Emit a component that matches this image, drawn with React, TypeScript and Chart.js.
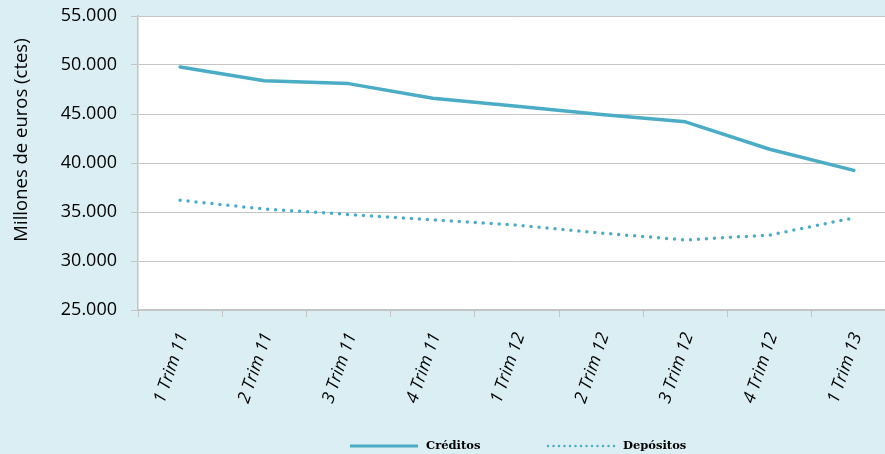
import { useEffect, useRef } from "react";
import { Chart, registerables } from "chart.js";

Chart.register(...registerables);

const categories = [
  "1 Trim 11",
  "2 Trim 11",
  "3 Trim 11",
  "4 Trim 11",
  "1 Trim 12",
  "2 Trim 12",
  "3 Trim 12",
  "4 Trim 12",
  "1 Trim 13",
];
const creditos = [49800, 48400, 48100, 46600, 45800, 44950, 44200, 41400, 39250];
const depositos = [36200, 35300, 34750, 34200, 33650, 32850, 32150, 32650, 34400];
const seriesLabels = ["Créditos", "Depósitos"];
const yTitle = "Millones de euros (ctes)";
const yMin = 25000;
const yMax = 55000;
const yStep = 5000;

const LINE = "#4BACC6";
const BG = "#DAEEF3";
const GRID = "#C4C4C4";

const fmt = (v: number) => String(Math.round(v)).replace(/\B(?=(\d{3})+(?!\d))/g, ".");

const decorPlugin = {
  id: "decor",
  beforeDraw(chart: any) {
    const { ctx, chartArea } = chart;
    ctx.save();
    ctx.fillStyle = BG;
    ctx.fillRect(0, 0, chart.width, chart.height);
    ctx.fillStyle = "#FFFFFF";
    ctx.fillRect(chartArea.left, chartArea.top, chartArea.right - chartArea.left, chartArea.bottom - chartArea.top);
    ctx.restore();
  },
  afterDraw(chart: any) {
    const { ctx } = chart;
    ctx.save();
    ctx.translate(22, 140);
    ctx.rotate(-Math.PI / 2);
    ctx.fillStyle = "#000000";
    ctx.font = '18.5px "Open Sans"';
    ctx.textAlign = "center";
    ctx.textBaseline = "middle";
    ctx.fillText(yTitle, 0, 0);
    ctx.restore();

    const ds = chart.data.datasets;
    const items = [
      { x0: 350, x1: 418, tx: 426, width: 3, dash: [] as number[] },
      { x0: 548, x1: 615, tx: 623, width: 2.5, dash: [0, 5.5] },
    ];
    const y = 446;
    items.forEach((it, i) => {
      ctx.save();
      ctx.strokeStyle = ds[i].borderColor;
      ctx.lineWidth = it.width;
      ctx.lineCap = it.dash.length ? "round" : "butt";
      ctx.setLineDash(it.dash);
      ctx.beginPath();
      ctx.moveTo(it.x0, y);
      ctx.lineTo(it.x1, y);
      ctx.stroke();
      ctx.setLineDash([]);
      ctx.fillStyle = "#000000";
      ctx.font = 'bold 11.5px "DejaVu Serif"';
      ctx.textAlign = "left";
      ctx.textBaseline = "middle";
      ctx.fillText(ds[i].label, it.tx, y);
      ctx.restore();
    });
  },
};

export default function App() {
  const ref = useRef<HTMLCanvasElement | null>(null);

  useEffect(() => {
    document.body.style.margin = "0";
    if (!ref.current) return;
    const chart = new Chart(ref.current, {
      type: "line",
      data: {
        labels: categories,
        datasets: [
          {
            label: seriesLabels[0],
            data: creditos,
            borderColor: LINE,
            backgroundColor: LINE,
            borderWidth: 3.5,
            pointRadius: 0,
            tension: 0,
            borderCapStyle: "round",
            borderJoinStyle: "round",
          },
          {
            label: seriesLabels[1],
            data: depositos,
            borderColor: LINE,
            backgroundColor: LINE,
            borderWidth: 3.5,
            borderDash: [0, 8],
            borderCapStyle: "round",
            pointRadius: 0,
            tension: 0,
          },
        ],
      },
      options: {
        animation: false,
        responsive: false,
        layout: { autoPadding: false, padding: { left: 0, top: 16, right: 1, bottom: 0 } },
        plugins: {
          legend: { display: false },
          tooltip: { enabled: false },
        },
        scales: {
          x: {
            type: "category",
            offset: true,
            afterFit: (s: any) => {
              s.height = 144;
              s.paddingLeft = 0;
              s.paddingRight = 0;
            },
            grid: {
              offset: true,
              drawOnChartArea: false,
              drawTicks: true,
              tickLength: 7,
              color: GRID,
            },
            border: { color: GRID, width: 1.5 },
            ticks: {
              maxRotation: 71,
              minRotation: 71,
              padding: 13,
              labelOffset: 3,
              color: "#000000",
              font: { family: "Open Sans", size: 17.5, style: "italic" },
            },
          },
          y: {
            min: yMin,
            max: yMax,
            afterFit: (s: any) => {
              s.width = 138;
              s.paddingTop = 0;
              s.paddingBottom = 0;
            },
            ticks: {
              stepSize: yStep,
              padding: 14,
              color: "#000000",
              font: { family: "Open Sans", size: 18 },
              callback: (v: any) => fmt(Number(v)),
            },
            grid: {
              color: GRID,
              lineWidth: 1,
              tickLength: 7,
              drawTicks: true,
            },
            border: { color: GRID, width: 1.5 },
          },
        },
      },
      plugins: [decorPlugin],
    });
    return () => chart.destroy();
  }, []);

  return (
    <div style={{ width: 885, height: 454, overflow: "hidden", background: BG, position: "relative" }}>
      <canvas ref={ref} width={897} height={454} style={{ display: "block" }} />
    </div>
  );
}
